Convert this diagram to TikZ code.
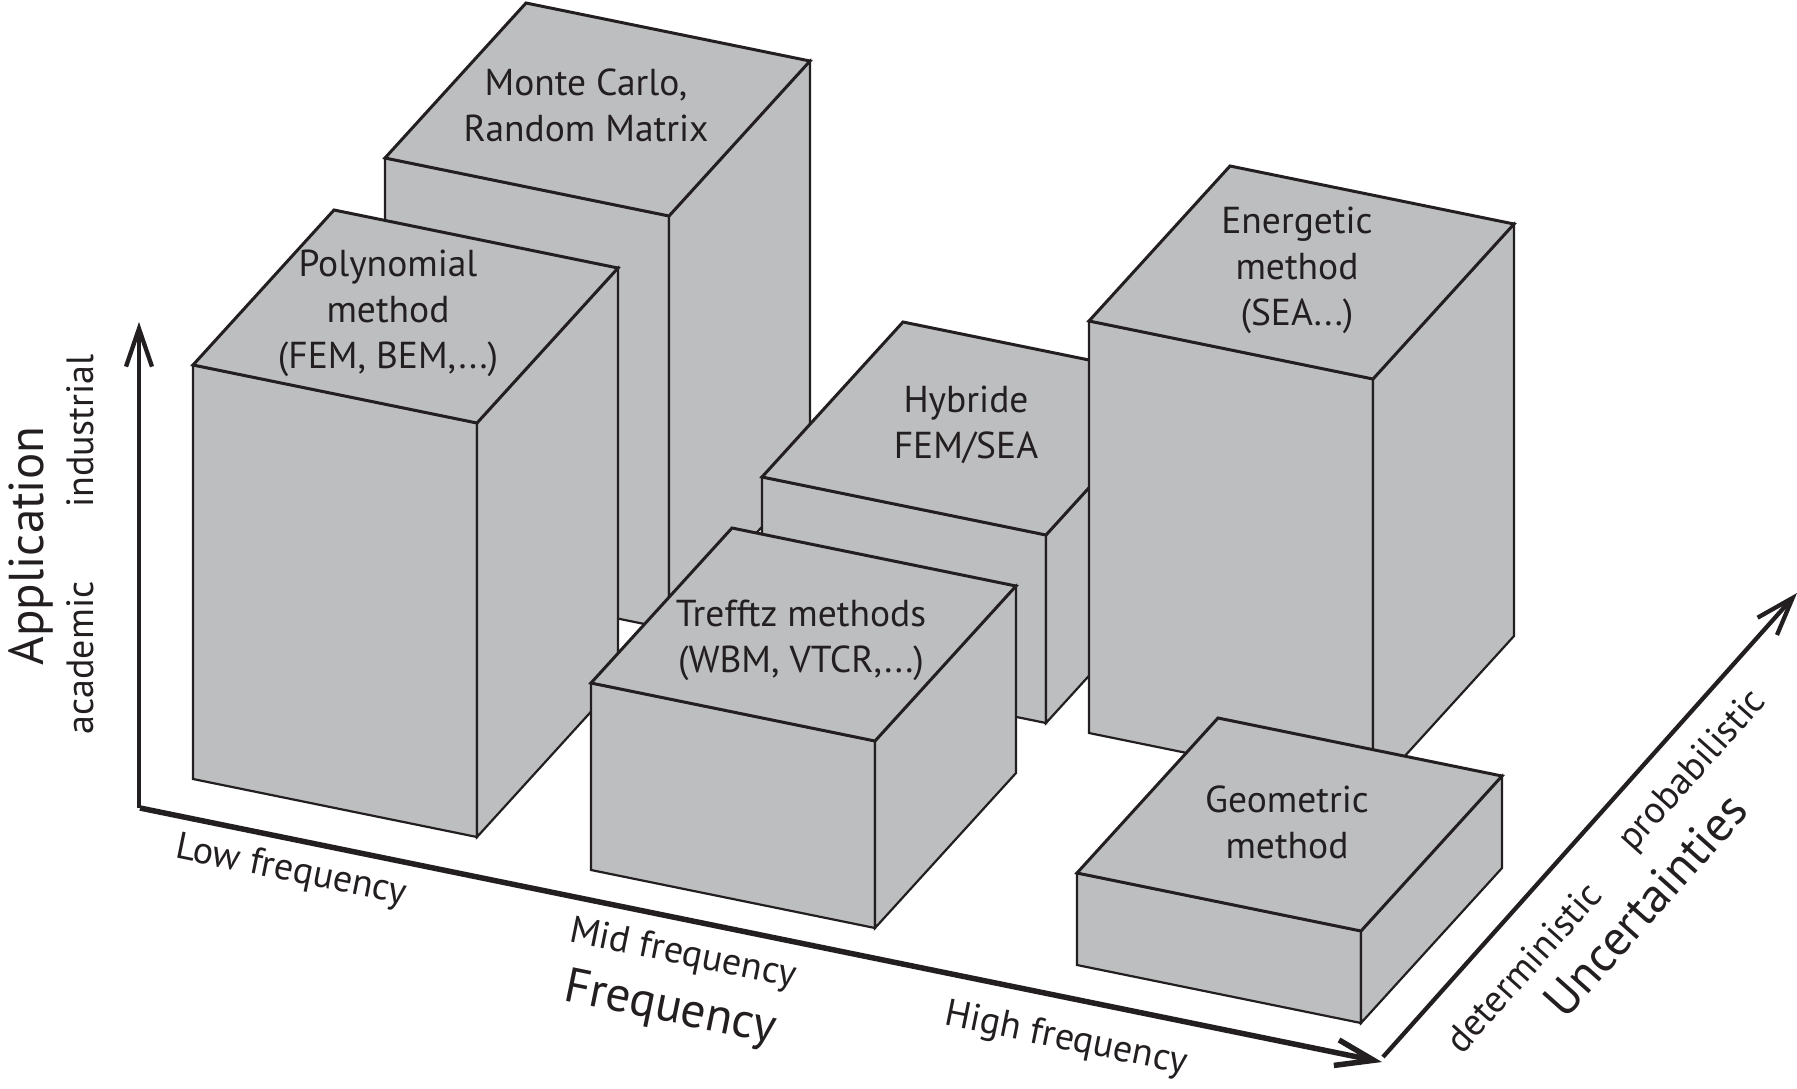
\documentclass[tikz,border=0pt]{standalone}
\usepackage{fontspec}
\setmainfont{PT Sans}
\usetikzlibrary{arrows.meta}

\definecolor{boxgray}{RGB}{188,190,192}
\definecolor{ink}{RGB}{35,31,32}

\tikzset{
  face/.style={fill=boxgray, draw=ink, line width=2.2pt, line join=miter},
  topface/.style={fill=boxgray, draw=ink, line width=3pt, line join=miter},
  boxtext/.style={align=center, text=ink, font=\fontsize{37.5}{46}\selectfont, inner sep=0pt},
  ticklabel/.style={text=ink, font=\fontsize{38}{44}\selectfont, inner sep=0pt},
  axislabel/.style={text=ink, font=\fontsize{49}{56}\selectfont, inner sep=0pt},
  axisline/.style={draw=ink, line cap=butt, -{Straight Barb[length=38pt,width=26pt]}},
  % a block seen from the front-left: footprint 284 x 58 along the front,
  % 141 x -155 towards the back, #1 = height
  pics/block/.style={code={
    \coordinate (-ftl) at (0,0);
    \coordinate (-ftr) at (284,58);
    \coordinate (-btr) at (425,-97);
    \coordinate (-btl) at (141,-155);
    \coordinate (-fbl) at (0,#1);
    \coordinate (-fbr) at (284,{58+#1});
    \coordinate (-bbr) at (425,{-97+#1});
    \path[face] (-ftl) -- (-ftr) -- (-fbr) -- (-fbl) -- cycle;
    \path[face] (-ftr) -- (-btr) -- (-bbr) -- (-fbr) -- cycle;
    \path[topface] (-ftl) -- (-ftr) -- (-btr) -- (-btl) -- cycle;
  }},
}

\begin{document}
\begin{tikzpicture}[x=1pt,y=-1pt]
\useasboundingbox (0,0) rectangle (1797,1088);

% blocks, from the back to the front
\pic (mc)   at (385,158)  {block=413};
\pic (hyb)  at (762,477)  {block=188};
\pic (poly) at (193,365)  {block=414};
\pic (tref) at (591,683)  {block=187};
\pic (ener) at (1089,321) {block=412};
\pic (geo)  at (1077,873) {block=92};

% method names on the top faces
\node[boxtext] (mctext)   at (586,105)  {Monte Carlo,\\Random Matrix};
\node[boxtext] (polytext) at (388,313)  {Polynomial\\method\\(FEM, BEM,...)};
\node[boxtext] (enertext) at (1297,270) {Energetic\\method\\(SEA...)};
\node[boxtext] (hybtext)  at (966,425)  {Hybride\\FEM/SEA};
\node[boxtext] (treftext) at (801,640)  {Trefftz methods\\(WBM, VTCR,...)};
\node[boxtext] (geotext)  at (1287,822) {Geometric\\method};

% axes
\coordinate (origin)  at (139,808);
\coordinate (apptip)  at (139,322);
\coordinate (freqbeg) at (140,808);
\coordinate (freqtip) at (1382,1062);
\coordinate (uncbeg)  at (1383,1057);
\coordinate (unctip)  at (1797,593);
\draw[axisline, line width=4.3pt] (origin) -- (apptip);
\draw[axisline, line width=5.5pt] (freqbeg) -- (freqtip);
\draw[axisline, line width=4.3pt] (uncbeg) -- (unctip);

% axis labels
\node[axislabel, rotate=90] (applabel) at (31,546) {Application};
\node[ticklabel, rotate=90] (industrial) at (80,431) {industrial};
\node[ticklabel, rotate=90] (academic)   at (80,658) {academic};

\node[ticklabel, rotate=-11.55] (lowf)  at (291,872)  {Low frequency};
\node[ticklabel, rotate=-11.55] (midf)  at (683,955)  {Mid frequency};
\node[axislabel, rotate=-11.55] (freq)  at (670,1010) {Frequency};
\node[ticklabel, rotate=-11.55] (highf) at (1066,1040) {High frequency};

\node[ticklabel, rotate=48.3] (determ) at (1523,967) {deterministic};
\node[ticklabel, rotate=48.3] (probab) at (1693,771) {probabilistic};
\node[axislabel, rotate=48.3] (uncert) at (1645,905) {Uncertainties};
\end{tikzpicture}
\end{document}
